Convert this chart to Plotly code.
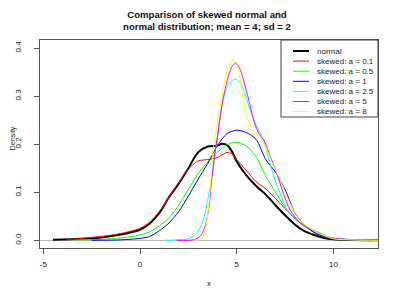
import plotly.graph_objects as go

# ---- data ----
x_normal = [-4.5, -3, -2, -1, 0, 0.5, 1.0, 1.5, 2.0, 2.5, 3.0, 3.5, 4.0, 4.25, 4.5, 4.75, 5.0, 5.5, 6.0, 6.5, 7.0, 7.5, 8.0, 8.5, 9.0, 9.5, 10.0, 10.5, 11.5, 12.3]
y_normal = [0.001, 0.003, 0.006, 0.012, 0.022, 0.035, 0.057, 0.09, 0.118, 0.15, 0.183, 0.195, 0.197, 0.201, 0.198, 0.185, 0.164, 0.135, 0.113, 0.095, 0.073, 0.052, 0.033, 0.019, 0.011, 0.005, 0.002, 0.001, 0.0, 0.0]

x_a01 = [-3.8, -3, -2, -1, 0, 0.5, 1.0, 1.5, 2.0, 2.5, 3.0, 3.5, 4.0, 4.5, 4.75, 5.0, 5.5, 6.0, 6.5, 7.0, 7.5, 8.0, 8.5, 9.0, 9.5, 10.0, 11.0, 12.3]
y_a01 = [0.001, 0.004, 0.008, 0.014, 0.025, 0.038, 0.06, 0.09, 0.12, 0.148, 0.165, 0.168, 0.172, 0.183, 0.18, 0.168, 0.145, 0.122, 0.107, 0.087, 0.066, 0.045, 0.03, 0.017, 0.009, 0.004, 0.001, 0.0]

x_a05 = [-3.4, -2, -1, 0, 0.5, 1.0, 1.5, 2.0, 2.5, 3.0, 3.5, 4.0, 4.5, 5.0, 5.5, 6.0, 6.5, 7.0, 7.5, 8.0, 8.5, 9.0, 9.5, 10.0, 11.0, 12.3]
y_a05 = [0.0005, 0.002, 0.005, 0.011, 0.018, 0.03, 0.047, 0.073, 0.106, 0.138, 0.163, 0.183, 0.199, 0.204, 0.196, 0.174, 0.133, 0.1, 0.069, 0.046, 0.029, 0.017, 0.009, 0.004, 0.001, 0.0]

x_a1 = [-2.5, -1, 0, 0.5, 1.0, 1.5, 2.0, 2.5, 3.0, 3.5, 4.0, 4.5, 5.0, 5.5, 6.0, 6.5, 7.0, 7.5, 8.0, 8.5, 9.0, 9.5, 10.0, 11.0, 12.3]
y_a1 = [0.0, 0.001, 0.004, 0.008, 0.02, 0.036, 0.06, 0.092, 0.127, 0.16, 0.197, 0.222, 0.229, 0.224, 0.21, 0.168, 0.142, 0.105, 0.058, 0.032, 0.016, 0.008, 0.003, 0.001, 0.0]

x_a25 = [1.3, 2.0, 2.5, 2.9, 3.25, 3.5, 3.75, 4.0, 4.25, 4.5, 4.75, 4.95, 5.2, 5.45, 5.7, 6.0, 6.2, 6.4, 6.55, 6.9, 7.25, 7.6, 8.1, 8.8, 9.3, 9.7, 10.5, 11.5, 12.3]
y_a25 = [0.0, 0.001, 0.003, 0.013, 0.04, 0.085, 0.14, 0.215, 0.282, 0.318, 0.332, 0.335, 0.327, 0.302, 0.27, 0.24, 0.224, 0.207, 0.185, 0.135, 0.097, 0.063, 0.042, 0.024, 0.016, 0.007, 0.002, 0.0005, 0.0]

x_a5 = [1.9, 2.75, 3.1, 3.35, 3.55, 3.7, 3.9, 4.0, 4.25, 4.5, 4.75, 4.97, 5.17, 5.43, 5.7, 5.9, 6.15, 6.4, 6.5, 6.75, 7.07, 7.4, 7.76, 8.3, 9.0, 9.7, 10.5, 11.5, 12.3]
y_a5 = [0.0, 0.001, 0.008, 0.028, 0.065, 0.125, 0.19, 0.215, 0.285, 0.332, 0.361, 0.369, 0.356, 0.321, 0.279, 0.246, 0.222, 0.208, 0.2, 0.172, 0.14, 0.098, 0.063, 0.035, 0.02, 0.007, 0.002, 0.001, 0.0]

x_a8 = [2.8, 3.2, 3.36, 3.53, 3.66, 3.8, 4.05, 4.3, 4.57, 4.79, 4.97, 5.17, 5.34, 5.52, 5.78, 6.04, 6.25, 6.55, 6.9, 7.24, 7.59, 7.93, 8.45, 9.14, 10.0, 11.0, 12.3]
y_a8 = [0.0, 0.004, 0.021, 0.063, 0.126, 0.195, 0.255, 0.315, 0.36, 0.375, 0.37, 0.335, 0.293, 0.258, 0.232, 0.22, 0.21, 0.188, 0.154, 0.126, 0.091, 0.063, 0.035, 0.017, 0.003, 0.001, 0.0]

series_names = ["normal", "skewed: a = 0.1", "skewed: a = 0.5", "skewed: a = 1",
                "skewed: a = 2.5", "skewed: a = 5", "skewed: a = 8"]
series_x = [x_normal, x_a01, x_a05, x_a1, x_a25, x_a5, x_a8]
series_y = [y_normal, y_a01, y_a05, y_a1, y_a25, y_a5, y_a8]
series_colors = ["#000000", "#FF0000", "#00FF00", "#0000FF", "#00FFFF", "#FF00FF", "#FFFF00"]
series_widths = [2, 1, 1, 1, 1, 1, 1]

x_ticks = [-5, 0, 5, 10]
x_ticktext = ["-5", "0", "5", "10"]
y_ticks = [0.0, 0.1, 0.2, 0.3, 0.4]
y_ticktext = ["0.0", "0.1", "0.2", "0.3", "0.4"]

FONT = "Liberation Sans, Arial, Helvetica, sans-serif"
TXT = "#222222"

# page has an 8px body margin: figure is drawn 8px in from the window edge
OFF = 8
FW, FH = 399 - OFF, 299 - OFF
# plot box in window pixels
L, R, T, B = 40, 378, 40, 248
W, H = R - L, B - T
def px(xp):
    return (xp - L) / W
def py(yp):
    return (B - yp) / H

fig = go.Figure()
for xs, ys, name, col, w in zip(series_x, series_y, series_names, series_colors, series_widths):
    fig.add_trace(go.Scatter(x=xs, y=ys, mode="lines", name=name,
                             line=dict(color=col, width=w, shape="spline", smoothing=0.8),
                             showlegend=False))

shapes = [dict(type="rect", xref="paper", yref="paper", x0=px(281), x1=1, y0=py(117), y1=1,
               line=dict(color="#444444", width=1), fillcolor="white", layer="above")]
annotations = []
for i, (name, col, w) in enumerate(zip(series_names, series_colors, series_widths)):
    yy = 51 + i * 10.1
    shapes.append(dict(type="line", xref="paper", yref="paper", x0=px(293), x1=px(309),
                       y0=py(yy), y1=py(yy), line=dict(color=col, width=w), layer="above"))
    annotations.append(dict(xref="paper", yref="paper", x=px(315), y=py(yy), text=name,
                            showarrow=False, xanchor="left", yanchor="middle",
                            font=dict(family=FONT, size=8, color=TXT)))
# axis titles
annotations.append(dict(xref="paper", yref="paper", x=px(209), y=py(283), text="x",
                        showarrow=False, xanchor="center", yanchor="middle",
                        font=dict(family=FONT, size=8, color=TXT)))
annotations.append(dict(xref="paper", yref="paper", x=px(11.5), y=py(139), text="Density",
                        showarrow=False, xanchor="center", yanchor="middle", textangle=-90,
                        font=dict(family=FONT, size=7.2, color=TXT)))
fig.update_layout(shapes=shapes, annotations=annotations)

fig.update_layout(
    width=FW, height=FH,
    margin=dict(l=L - OFF, r=FW - (R - OFF), t=T - OFF, b=FH - (B - OFF), pad=0, autoexpand=False),
    paper_bgcolor="white", plot_bgcolor="white",
    title=dict(text="<b>Comparison of skewed normal and<br>normal distribution; mean = 4; sd = 2</b>",
               x=(207 - OFF) / FW, xanchor="center", y=1 - 10 / FH, yanchor="top",
               xref="container", yref="container",
               font=dict(family=FONT, size=9.6, color="#111111")),
    xaxis=dict(range=[-5.17, 12.3], tickvals=x_ticks, ticktext=x_ticktext, automargin=False,
               showgrid=False, zeroline=False, showline=True, mirror=True,
               linecolor="#555555", linewidth=1, ticks="outside", ticklen=5,
               tickcolor="#555555", tickfont=dict(family=FONT, size=8, color=TXT),
               ticklabelstandoff=3),
    yaxis=dict(range=[-0.016, 0.4167], tickvals=y_ticks, ticktext=y_ticktext, tickangle=-90,
               automargin=False,
               showgrid=False, zeroline=True, zerolinecolor="#bebebe", zerolinewidth=1,
               showline=True, mirror=True,
               linecolor="#555555", linewidth=1, ticks="outside", ticklen=5,
               tickcolor="#555555", tickfont=dict(family=FONT, size=8, color=TXT),
               ticklabelstandoff=10),
)

fig.write_html("out.html")
